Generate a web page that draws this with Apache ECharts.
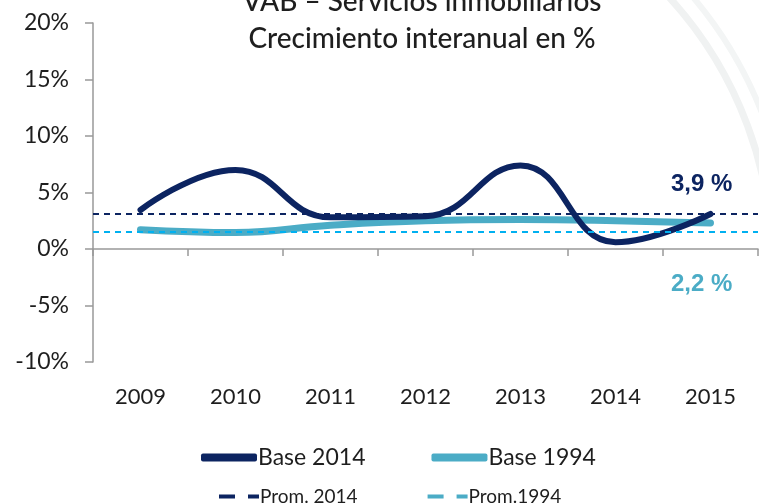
<!DOCTYPE html>
<html>
<head>
<meta charset="utf-8">
<script src="https://cdn.jsdelivr.net/npm/echarts@6/dist/echarts.min.js"></script>
<style>
  html, body { margin: 0; padding: 0; background: #fff; }
  #chart { width: 759px; height: 503px; }
</style>
</head>
<body>
<div id="chart"></div>
<script>
// datos
var years = ['2009', '2010', '2011', '2012', '2013', '2014', '2015'];
var base2014 = [3.45, 7.0, 2.8, 2.9, 7.4, 0.6, 3.1];
var base1994 = [1.7, 1.45, 2.1, 2.5, 2.6, 2.5, 2.3];
var prom2014 = 3.1;   // posición de la línea punteada
var prom1994 = 1.5;
var prom2014Label = '3,9 %';
var prom1994Label = '2,2 %';

var dark = '#0c2461';
var light = '#4bacc6';
var cyan = '#00b0f0';
var font = 'Lato';
var txt = '#1e1e1e';
var dashIcon = 'path://M0,0H16V4H0Z M29,0H40V4H29Z';

var myChart = echarts.init(document.getElementById('chart'));
var option = {
    backgroundColor: '#fff',
    animation: false,
    title: {
        text: 'VAB – Servicios inmobiliarios\nCrecimiento interanual en %',
        left: 417,
        textAlign: 'center',
        top: -22,
        textStyle: { fontFamily: font, fontSize: 28, fontWeight: 500, color: txt, lineHeight: 37 }
    },
    grid: { left: 93, right: 1, top: 23, bottom: 141 },
    legend: [{
        data: [
            { name: 'Base 2014', icon: 'roundRect', itemStyle: { color: dark } },
            { name: 'Base 1994', icon: 'roundRect', itemStyle: { color: light } }
        ],
        top: 441,
        left: 196,
        itemWidth: 56,
        itemHeight: 8,
        itemGap: 66,
        textStyle: { fontFamily: font, fontSize: 23, color: txt, padding: [0, 0, 0, -4] }
    }, {
        data: [
            { name: 'Prom. 2014', icon: dashIcon, itemStyle: { color: dark } },
            { name: 'Prom.1994', icon: dashIcon, itemStyle: { color: light } }
        ],
        top: 482,
        left: 214,
        itemWidth: 40,
        itemHeight: 4,
        itemGap: 70,
        textStyle: { fontFamily: font, fontSize: 19, color: txt, padding: [0, 0, 0, -4] }
    }],
    xAxis: [{
        type: 'category',
        data: years,
        boundaryGap: true,
        axisLine: { onZero: true, lineStyle: { color: '#999', width: 1.5 } },
        axisTick: { show: true, length: 7, lineStyle: { color: '#999', width: 1.5 } },
        axisLabel: { show: false }
    }, {
        type: 'category',
        data: years,
        position: 'bottom',
        boundaryGap: true,
        axisLine: { show: false },
        axisTick: { show: false },
        axisLabel: { margin: 24, fontFamily: font, fontSize: 22, color: txt }
    }],
    yAxis: {
        type: 'value',
        min: -10,
        max: 20,
        interval: 5,
        axisLine: { show: true, lineStyle: { color: '#999', width: 1.5 } },
        axisTick: { show: true, length: 8, lineStyle: { color: '#999', width: 1.5 } },
        splitLine: { show: false },
        axisLabel: { formatter: '{value}%', margin: 24, fontFamily: font, fontSize: 23, color: txt }
    },
    series: [{
        name: 'Prom. 2014',
        type: 'line',
        data: [],
        symbol: 'none',
        itemStyle: { color: dark },
        markLine: {
            symbol: 'none',
            silent: true,
            label: { show: false },
            lineStyle: { color: dark, type: [6, 5], width: 2 },
            data: [{ yAxis: prom2014 }]
        }
    }, {
        name: 'Prom.1994',
        type: 'line',
        data: [],
        symbol: 'none',
        itemStyle: { color: cyan },
        markLine: {
            symbol: 'none',
            silent: true,
            label: { show: false },
            lineStyle: { color: cyan, type: [6, 5], width: 2 },
            data: [{ yAxis: prom1994 }]
        }
    }, {
        name: 'Base 1994',
        type: 'line',
        data: base1994,
        smooth: 0.45,
        symbol: 'none',
        itemStyle: { color: light },
        lineStyle: { color: light, width: 7, cap: 'round' }
    }, {
        name: 'Base 2014',
        type: 'line',
        data: base2014,
        smooth: 0.45,
        symbol: 'none',
        z: 3,
        itemStyle: { color: dark },
        lineStyle: { color: dark, width: 6, cap: 'round' }
    }],
    graphic: [{
        type: 'arc',
        silent: true,
        z: -10,
        shape: { cx: 380, cy: 262, r: 392, startAngle: -0.76, endAngle: 0.05 },
        style: { stroke: '#f0f2f2', lineWidth: 7, fill: null }
    }, {
        type: 'arc',
        silent: true,
        z: -10,
        shape: { cx: 380, cy: 262, r: 410, startAngle: -0.72, endAngle: 0.05 },
        style: { stroke: '#f3f5f5', lineWidth: 6, fill: null }
    }, {
        type: 'text',
        left: 671,
        top: 172,
        style: { text: prom2014Label, fill: dark, font: 'bold 24px "Liberation Sans Narrow", "Liberation Sans", sans-serif' }
    }, {
        type: 'text',
        left: 671,
        top: 272,
        style: { text: prom1994Label, fill: light, font: 'bold 24px "Liberation Sans Narrow", "Liberation Sans", sans-serif' }
    }]
};
myChart.setOption(option);
</script>
</body>
</html>
